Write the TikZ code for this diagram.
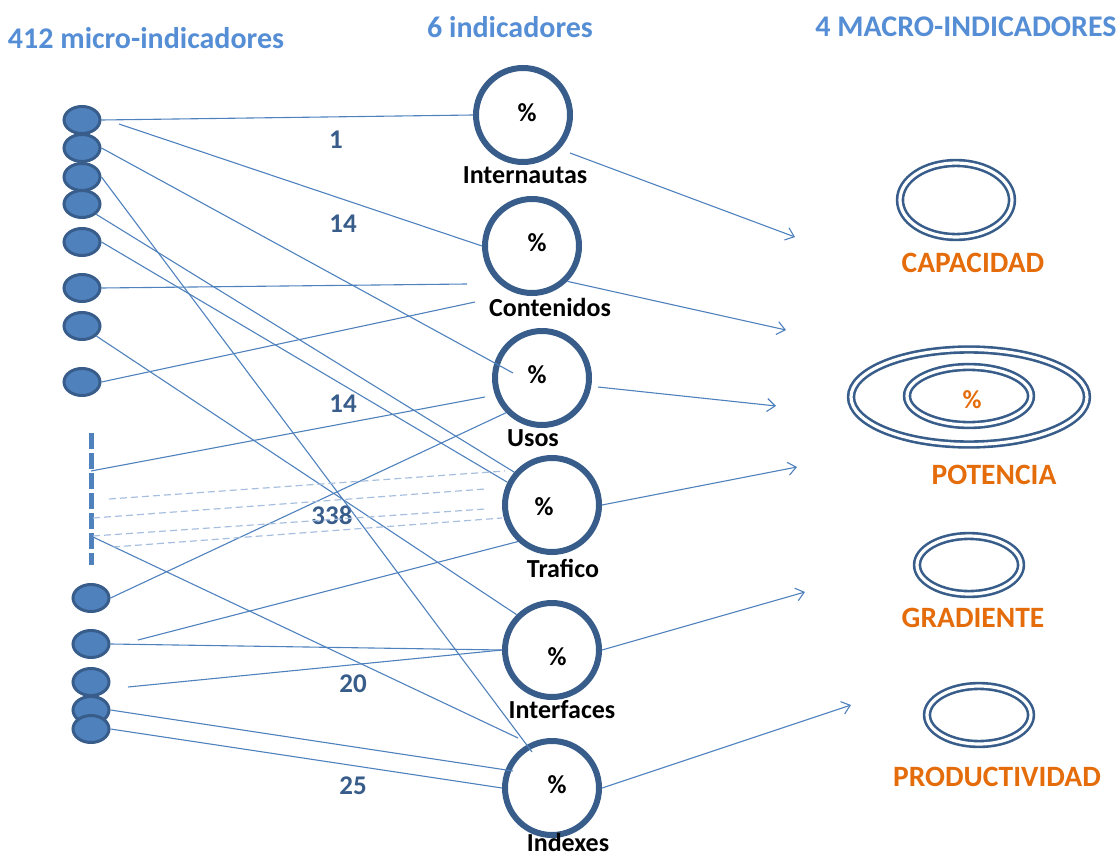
\documentclass[tikz,border=0pt]{standalone}
\usepackage{fontspec}
\setmainfont{Carlito}
\usetikzlibrary{shapes.geometric,arrows.meta}
\definecolor{linkblue}{HTML}{4F81BD}
\definecolor{rimblue}{HTML}{385D8A}
\definecolor{headblue}{HTML}{558ED5}
\definecolor{ghostblue}{HTML}{A7BFDE}
\definecolor{macroorange}{HTML}{E46C0A}

\begin{document}
\begin{tikzpicture}[x=1pt,y=-1pt,
  micro/.style={ellipse,draw=rimblue,fill=linkblue,line width=3pt,minimum width=36pt,minimum height=27pt,inner sep=0pt},
  ind/.style={circle,draw=rimblue,line width=6pt,minimum size=94pt,inner sep=0pt},
  macro/.style={ellipse,draw=rimblue,double=white,line width=2.6pt,double distance=3.2pt,inner sep=0pt},
  link/.style={draw=linkblue,line width=1.1pt},
  ghost/.style={draw=ghostblue,line width=1.2pt,dash pattern=on 7pt off 4pt},
  feed/.style={link,-{Straight Barb[length=8pt,width=13pt]}},
  head/.style={text=headblue,font=\fontsize{30}{34}\selectfont\bfseries},
  count/.style={text=rimblue,font=\fontsize{27}{32}\selectfont\bfseries},
  pct/.style={font=\fontsize{26}{30}\selectfont\bfseries},
  indname/.style={font=\fontsize{26}{30}\selectfont\bfseries},
  macroname/.style={text=macroorange,font=\fontsize{29.5}{34}\selectfont\bfseries}]
\useasboundingbox (0,0) rectangle (1120,856);

% column heads
\node[head] (h-micro) at (146,38) {412 micro-indicadores};
\node[head] (h-ind) at (510,27) {6 indicadores};
\node[head] (h-macro) at (966,27) {4 MACRO-INDICADORES};

% micro-indicators
\node[micro] (m1) at (82,120) {};
\node[micro] (m2) at (82,148) {};
\node[micro] (m3) at (82,177) {};
\node[micro] (m4) at (82,204) {};
\node[micro] (m5) at (82,242) {};
\node[micro] (m6) at (82,288) {};
\node[micro] (m7) at (82,326) {};
\node[micro] (m8) at (82,382) {};
\coordinate (dtop) at (91,433);
\coordinate (dbot) at (91,565);
\draw[linkblue,line width=5pt,dash pattern=on 16pt off 4pt] (dtop) -- (dbot);
\node[micro] (m9) at (91,598) {};
\node[micro] (m10) at (91,644) {};
\node[micro] (m11) at (91,682) {};
\node[micro] (m12) at (91,710) {};
\node[micro] (m13) at (91,729) {};

% indicators
\node[ind] (intern) at (523,115) {};
\node[ind] (conten) at (532,246) {};
\node[ind] (usos) at (542,378) {};
\node[ind] (trafico) at (552,505) {};
\node[ind] (interf) at (552,650) {};
\node[ind] (indexes) at (552,788) {};
\node[pct] (p-intern) at (527,113) {\%};
\node[pct] (p-conten) at (537,243) {\%};
\node[pct] (p-usos) at (537,375) {\%};
\node[pct] (p-trafico) at (544,507) {\%};
\node[pct] (p-interf) at (557,657) {\%};
\node[pct] (p-indexes) at (557,785) {\%};
\node[indname] (n-intern) at (525,175) {Internautas};
\node[indname] (n-conten) at (550,307) {Contenidos};
\node[indname] (n-usos) at (533,438) {Usos};
\node[indname] (n-trafico) at (563,568) {Trafico};
\node[indname] (n-interf) at (562,710) {Interfaces};
\node[indname] (n-indexes) at (568,842) {Indexes};

% counts
\node[count] (c1) at (336,140) {1};
\node[count] (c2) at (343,224) {14};
\node[count] (c3) at (343,404) {14};
\node[count] (c4) at (332,515) {338};
\node[count] (c5) at (353,684) {20};
\node[count] (c6) at (353,786) {25};

% loose ends
\coordinate (s1) at (119,124);
\coordinate (s2) at (138,640);
\coordinate (s3) at (128,687);
\coordinate (d1) at (91,471);
\coordinate (d2) at (93,537);
\coordinate (g1) at (109,499);
\coordinate (g2) at (93,518);
\coordinate (g3) at (93,536);
\coordinate (g4) at (113,547);
\coordinate (t1) at (513,373);
\coordinate (t2) at (532,752);
\coordinate (t3) at (467,284);
\coordinate (t4) at (475,302);
\coordinate (t5) at (485,397);
\coordinate (t6) at (518,738);
\coordinate (t7) at (513,771);
\coordinate (u1) at (505,471);
\coordinate (u2) at (485,489);
\coordinate (u3) at (485,509);
\coordinate (u4) at (502,518);

% micro -> indicator
\draw[link] (m1.east) -- (intern.west);
\draw[link] (s1) -- (conten.west);
\draw[link] (m2.east) -- (t1);
\draw[link] (m3.east) -- (t2);
\draw[link] (m4.-36) -- (trafico.139);
\draw[link] (m5.east) -- (trafico.153);
\draw[link] (m6.east) -- (t3);
\draw[link] (m7.-35) -- (interf.135);
\draw[link] (m8.east) -- (t4);
\draw[link] (d1) -- (t5);
\draw[link] (d2) -- (t6);
\draw[link] (m9.east) -- (usos.224);
\draw[link] (s2) -- (trafico.227);
\draw[link] (m10.east) -- (interf.west);
\draw[link] (s3) -- (interf.west);
\draw[link] (m12.east) -- (t7);
\draw[link] (m13.east) -- (indexes.west);
\draw[ghost] (g1) -- (u1);
\draw[ghost] (g2) -- (u2);
\draw[ghost] (g3) -- (u3);
\draw[ghost] (g4) -- (u4);

% macro-indicators
\node[macro,minimum width=112pt,minimum height=74pt] (capacidad) at (956,200) {};
\node[macro,minimum width=236pt,minimum height=95pt] (potencia) at (969,397) {};
\node[macro,minimum width=124pt,minimum height=58pt] (potencia-in) at (969,396) {};
\node[macro,minimum width=104pt,minimum height=58pt] (gradiente) at (969,565) {};
\node[macro,minimum width=104pt,minimum height=58pt] (productividad) at (979,715) {};
\node[pct,text=macroorange] (p-potencia) at (972,400) {\%};
\node[macroname] (n-capacidad) at (973,263) {CAPACIDAD};
\node[macroname] (n-potencia) at (994,475) {POTENCIA};
\node[macroname] (n-gradiente) at (973,618) {GRADIENTE};
\node[macroname] (n-productividad) at (997,777) {PRODUCTIVIDAD};

% indicator -> macro
\coordinate (a1) at (570,153);
\coordinate (a3) at (598,387);
\coordinate (b1) at (795,237);
\coordinate (b2) at (786,330);
\coordinate (b3) at (776,406);
\coordinate (b4) at (797,467);
\coordinate (b5) at (805,592);
\coordinate (b6) at (851,705);
\draw[feed] (a1) -- (b1);
\draw[feed] (conten.-45) -- (b2);
\draw[feed] (a3) -- (b3);
\draw[feed] (trafico.east) -- (b4);
\draw[feed] (interf.east) -- (b5);
\draw[feed] (indexes.east) -- (b6);
\end{tikzpicture}
\end{document}
